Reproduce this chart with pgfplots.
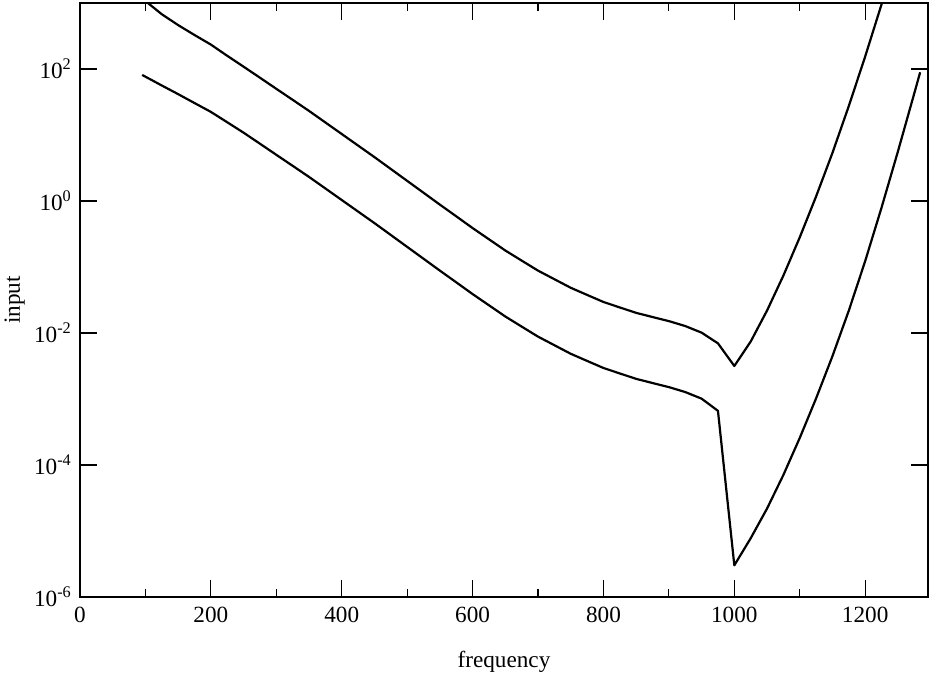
\documentclass[border=0pt]{standalone}
\usepackage{fontspec}
\setmainfont{Liberation Serif}
\usepackage{pgfplots}
\pgfplotsset{compat=1.18}
\begin{document}
\fontsize{11.6}{13.9}\selectfont
\begin{tikzpicture}
\useasboundingbox (-40pt,-40.5pt) rectangle (426pt,298.5pt);
\begin{axis}[
  at={(0,0)}, anchor=south west,
  scale only axis, width=424pt, height=297pt,
  xmin=0, xmax=1296, ymode=log, ymin=1e-6, ymax=1e3,
  xtick={0,200,400,600,800,1000,1200},
  xticklabels={0,200,400,600,800,1000,1200},
  minor x tick num=1,
  ytick={1e-6,1e-4,1e-2,1,1e2},
  yticklabels={10\textsuperscript{-6},10\textsuperscript{-4},10\textsuperscript{-2},10\textsuperscript{0},10\textsuperscript{2}},
  yminorticks=false,
  major tick length=8.5pt, minor tick length=4pt,
  tick align=inside,
  every tick/.style={black, line width=0.6pt},
  axis line style={line width=0.6pt},
  xlabel=frequency, ylabel=input,
  xlabel style={at={(axis description cs:0.5,-0.1195)}, anchor=base},
  ylabel style={at={(axis description cs:-0.0708,0.5)}, anchor=base},
  xticklabel style={yshift=-1pt},
  tick label style={font=\fontsize{11.6}{13.9}\selectfont},
  label style={font=\fontsize{11.6}{13.9}\selectfont},
]
\addplot[black, line width=1.1pt, line join=round] coordinates {
(95,81.28) (125,56.23) (150,41.59) (175,30.48) (200,22.39) (225,15.60) (250,10.84)
(275,7.379) (300,5.012) (325,3.412) (350,2.317) (375,1.549) (400,1.035) (425,0.6918)
(450,0.4624) (475,0.3055) (500,0.2018) (525,0.1334) (550,0.08810) (575,0.05861)
(600,0.03890) (625,0.02630) (650,0.01778) (675,0.01250) (700,0.008810) (725,0.006531)
(750,0.004842) (775,0.003776) (800,0.002951) (825,0.002438) (850,0.002018)
(875,0.001746) (900,0.001514) (925,0.001274) (950,0.001012) (975,0.0006607)
(1000,3.020e-6) (1025,7.762e-6) (1050,2.188e-5) (1075,7.079e-5) (1100,2.570e-4)
(1125,1.023e-3) (1150,4.467e-3) (1175,0.02188) (1200,0.1230) (1225,0.7943)
(1250,5.623) (1275,42.66) (1284,89.13)
};
\addplot[black, line width=1.1pt, line join=round] coordinates {
(95,1175) (125,676.1) (150,462.4) (175,327.3) (200,234.4) (225,158.5) (250,108.4)
(275,73.79) (300,50.12) (325,34.12) (350,23.17) (375,15.49) (400,10.35) (425,6.918)
(450,4.624) (475,3.055) (500,2.018) (525,1.334) (550,0.8810) (575,0.5861)
(600,0.3890) (625,0.2630) (650,0.1778) (675,0.1250) (700,0.08810) (725,0.06531)
(750,0.04842) (775,0.03776) (800,0.02951) (825,0.02438) (850,0.02018)
(875,0.01746) (900,0.01514) (925,0.01274) (950,0.01012) (975,0.006966)
(1000,0.003162) (1025,0.007413) (1050,0.02188) (1075,0.07413) (1100,0.2818)
(1125,1.175) (1150,5.370) (1175,27.54) (1200,154.9) (1225,955.0) (1250,6457)
};
\end{axis}
\end{tikzpicture}
\end{document}
